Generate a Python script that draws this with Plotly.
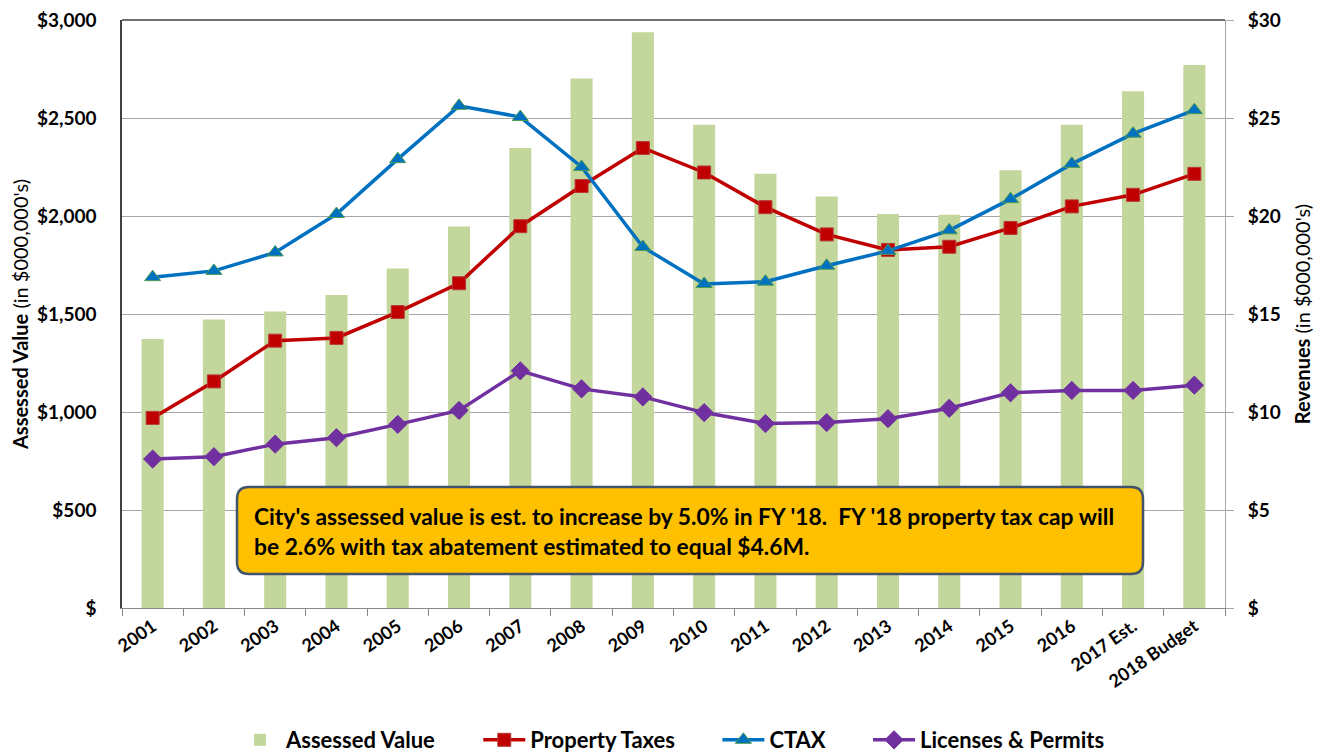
import plotly.graph_objects as go

years = ["2001", "2002", "2003", "2004", "2005", "2006", "2007", "2008", "2009",
         "2010", "2011", "2012", "2013", "2014", "2015", "2016", "2017 Est.", "2018 Budget"]
assessed_value = [1372, 1472, 1513, 1597, 1732, 1947, 2347, 2702, 2937, 2465, 2216,
                  2100, 2010, 2007, 2234, 2465, 2636, 2770]
property_taxes = [9.7, 11.56, 13.64, 13.78, 15.1, 16.57, 19.48, 21.53, 23.47, 22.22,
                  20.45, 19.06, 18.27, 18.43, 19.39, 20.49, 21.08, 22.15]
ctax = [16.88, 17.2, 18.14, 20.1, 22.9, 25.62, 25.05, 22.5, 18.42, 16.53, 16.65,
        17.46, 18.22, 19.27, 20.86, 22.66, 24.2, 25.4]
licenses = [7.6, 7.72, 8.36, 8.69, 9.37, 10.08, 12.1, 11.18, 10.77, 9.97, 9.41,
            9.46, 9.66, 10.19, 10.98, 11.1, 11.1, 11.37]

left_ticks = [0, 500, 1000, 1500, 2000, 2500, 3000]
left_labels = ["$", "$500", "$1,000", "$1,500", "$2,000", "$2,500", "$3,000"]
right_ticks = [0, 5, 10, 15, 20, 25, 30]
right_labels = ["$", "$5", "$10", "$15", "$20", "$25", "$30"]

note_lines = ["City's assessed value is est. to increase by 5.0% in FY '18.  FY '18 property tax cap will",
              "be 2.6% with tax abatement estimated to equal $4.6M."]

FONT = "Lato"
PAD = "&nbsp;" * 7  # extra legend spacing between entries

# page body has an 8px margin: figure occupies (8,8)-(1324,754)
PX0, PY0 = 8, 8
PLOT_L, PLOT_R, PLOT_T, PLOT_B = 122, 1225, 20, 608
PW, PH = PLOT_R - PLOT_L, PLOT_B - PLOT_T

fig = go.Figure()
fig.add_trace(go.Bar(x=years, y=assessed_value, name="Assessed Value" + PAD,
                     marker=dict(color="#C3D69B", line=dict(width=0)), width=0.36))
fig.add_trace(go.Scatter(x=years, y=property_taxes, name="Property Taxes" + PAD, yaxis="y2",
                         mode="lines+markers",
                         line=dict(color="#C00000", width=3.5),
                         marker=dict(symbol="square", size=13, color="#C00000",
                                     line=dict(color="#B83A3A", width=1))))
fig.add_trace(go.Scatter(x=years, y=ctax, name="CTAX" + PAD, yaxis="y2",
                         mode="lines+markers",
                         line=dict(color="#0070C0", width=3.5),
                         marker=dict(symbol="triangle-up", size=14, color="#0070C0",
                                     line=dict(color="#4E9A52", width=1))))
fig.add_trace(go.Scatter(x=years, y=licenses, name="Licenses & Permits", yaxis="y2",
                         mode="lines+markers",
                         line=dict(color="#7030A0", width=3.5),
                         marker=dict(symbol="diamond", size=14, color="#7030A0",
                                     line=dict(color="#7030A0", width=1))))

# rounded note box (paper coordinates)
x0, x1 = (237 - PLOT_L) / PW, (1143 - PLOT_L) / PW
y0, y1 = (PLOT_B - 574) / PH, (PLOT_B - 487) / PH
rx, ry = 12 / PW, 12 / PH
path = (f"M {x0+rx},{y0} L {x1-rx},{y0} Q {x1},{y0} {x1},{y0+ry} "
        f"L {x1},{y1-ry} Q {x1},{y1} {x1-rx},{y1} L {x0+rx},{y1} "
        f"Q {x0},{y1} {x0},{y1-ry} L {x0},{y0+ry} Q {x0},{y0} {x0+rx},{y0} Z")
fig.add_shape(type="path", path=path, xref="paper", yref="paper",
              fillcolor="#FFC000", line=dict(color="#41546B", width=2.5), layer="above")
fig.add_annotation(x=(252 - PLOT_L) / PW, y=(y0 + y1) / 2, xref="paper", yref="paper",
                   xanchor="left", yanchor="middle", align="left", showarrow=False,
                   text="<br>".join(note_lines),
                   font=dict(family=FONT, size=22.8, color="#000000", weight="bold"))

fig.update_layout(
    width=1324 - PX0, height=754 - PY0,
    margin=dict(l=PLOT_L - PX0, r=1324 - PLOT_R, t=PLOT_T - PY0, b=754 - PLOT_B,
                autoexpand=False),
    plot_bgcolor="white", paper_bgcolor="white",
    font=dict(family=FONT, color="#000000"),
    showlegend=True,
    legend=dict(orientation="h", x=(672 - PLOT_L) / PW, xanchor="center",
                y=(PLOT_B - 740) / PH, yanchor="middle",
                font=dict(family=FONT, size=22, weight="bold"), itemwidth=42,
                traceorder="normal"),
    xaxis=dict(type="category", range=[-0.5, len(years) - 0.5], tickangle=-35,
               automargin=False,
               tickfont=dict(family=FONT, size=18, weight="bold"),
               showline=True, linecolor="#888888", linewidth=1,
               ticks="outside", tickson="boundaries", ticklen=7, tickcolor="#888888",
               showgrid=False, ticklabeloverflow="allow"),
    yaxis=dict(range=[0, 3000], tickvals=left_ticks, ticktext=left_labels, automargin=False,
               tickfont=dict(family=FONT, size=19, weight="bold"),
               showgrid=True, gridcolor="#A6A6A6", gridwidth=1,
               showline=True, linecolor="#404040", linewidth=1.5,
               ticks="", ticklabelstandoff=20, zeroline=False, ticklabeloverflow="allow",
               title=dict(text="<b>Assessed Value</b> (in $000,000's)",
                          font=dict(family=FONT, size=20), standoff=8)),
    yaxis2=dict(range=[0, 30], tickvals=right_ticks, ticktext=right_labels,
                overlaying="y", side="right", automargin=False,
                tickfont=dict(family=FONT, size=19, weight="bold"),
                showgrid=False, showline=True, linecolor="#A6A6A6", linewidth=1,
                ticks="outside", ticklen=8, tickcolor="#A6A6A6", ticklabelstandoff=10,
                zeroline=False, ticklabeloverflow="allow",
                title=dict(text="<b>Revenues</b> (in $000,000's)",
                           font=dict(family=FONT, size=20), standoff=16)),
)
fig.add_shape(type="line", xref="paper", yref="paper", x0=0, x1=1, y0=1, y1=1,
              line=dict(color="#404040", width=1.5))

fig.write_html("out.html")
